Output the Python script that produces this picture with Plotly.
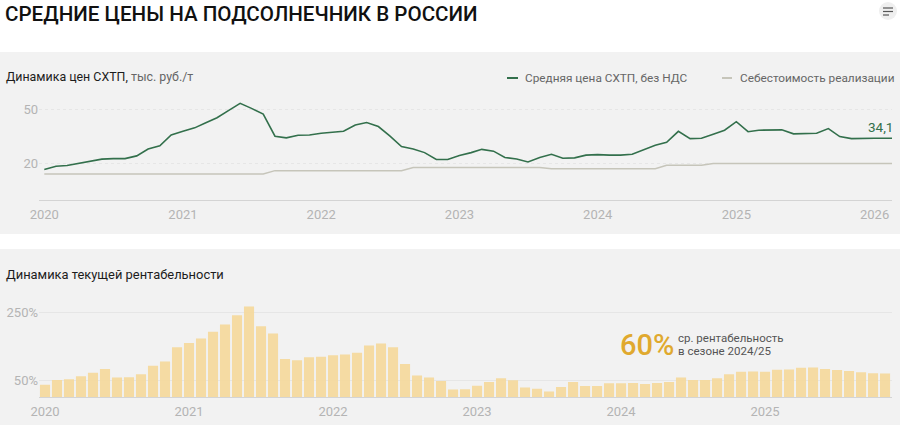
import pandas as pd
import plotly.graph_objects as go

W, H = 900, 425
FONT = "Roboto"

price_dates = list(pd.date_range("2020-01-01", "2026-01-01", freq="MS").strftime("%Y-%m-%d")) + ["2026-02-16"]
price = [16.9, 18.7, 19.1, 20.2, 21.3, 22.6, 22.9, 22.9, 24.4, 28.2, 29.9, 35.9,
         37.9, 39.8, 42.5, 45.4, 49.3, 53.3, 50.5, 47.4, 35.2, 34.3, 35.7, 35.9,
         36.8, 37.2, 37.9, 41.4, 42.7, 40.5, 35.4, 29.5, 28.2, 26.2, 22.4, 22.4,
         24.6, 26.2, 28.0, 27.0, 23.5, 22.7, 21.1, 23.5, 25.3, 23.1, 23.3, 24.8,
         25.1, 24.8, 24.8, 25.3, 27.5, 30.2, 31.9, 37.9, 33.9, 34.1, 36.3, 38.5,
         43.2, 37.7, 38.5, 38.5, 38.7, 36.5, 36.5, 36.8, 39.4, 35.0, 33.9, 34.1,
         34.1, 34.1]
cost = [14.5] * 20 + [16.3] * 12 + [18.0] * 12 + [17.4] * 10 + [19.3] * 4 + [20.2] * 16

margin_months = list(pd.date_range("2020-01-01", "2025-11-01", freq="MS").strftime("%Y-%m"))
margin = [37, 51, 53, 62, 72, 83, 58, 59, 68, 93, 105, 147,
          160, 173, 193, 214, 241, 267, 209, 188, 113, 109, 118, 119,
          124, 126, 131, 152, 158, 147, 98, 64, 58, 48, 23, 24,
          34, 45, 56, 50, 29, 25, 17, 30, 45, 33, 33, 41,
          41, 42, 39, 42, 45, 58, 51, 51, 56, 68, 75, 76,
          75, 81, 82, 87, 88, 83, 80, 77, 74, 71, 70]
margin_tick_months = ["2020-01", "2021-01", "2022-01", "2023-01", "2024-01", "2025-01"]
margin_tick_years = ["2020", "2021", "2022", "2023", "2024", "2025"]
margin_y_ticks = [50, 250]
margin_y_labels = ["50%", "250%"]

GREEN = "#33704c"
GREY_LINE = "#c6c5ba"
PANEL = "#f2f2f2"
TICK = "#b4b4b4"
GRID = "#e6e6e6"


def px_x(x):
    return x / W


def px_y(y):
    return 1 - y / H


def note(x, y, text, size, color, anchor="left", weight=400):
    # annotations carry about 2.5px of padding, taken back for left aligned text
    return dict(xref="paper", yref="paper", x=px_x(x), y=px_y(y), text=text, showarrow=False,
                xanchor=anchor, yanchor="middle", align="left", xshift=-2.5 if anchor == "left" else 0,
                font=dict(family=FONT, size=size, color=color, weight=weight))


def rule(x0, y0, x1, y1, color, width):
    return dict(type="line", xref="paper", yref="paper", x0=px_x(x0), x1=px_x(x1), y0=px_y(y0), y1=px_y(y1),
                line=dict(color=color, width=width))


def panel(y0, y1):
    return dict(type="rect", xref="paper", yref="paper", x0=0, x1=1, y0=px_y(y1), y1=px_y(y0),
                fillcolor=PANEL, line_width=0, layer="below")


fig = go.Figure()
fig.add_trace(go.Scatter(x=price_dates, y=cost, mode="lines", name="Себестоимость реализации",
                         line=dict(color=GREY_LINE, width=1.5), xaxis="x", yaxis="y"))
fig.add_trace(go.Scatter(x=price_dates, y=price, mode="lines", name="Средняя цена СХТП, без НДС",
                         line=dict(color=GREEN, width=1.6), xaxis="x", yaxis="y"))
fig.add_trace(go.Bar(x=margin_months, y=margin, name="Текущая рентабельность",
                     marker=dict(color="#f6d795", opacity=0.85, line_width=0), xaxis="x2", yaxis="y2"))

tick_font = dict(family=FONT, size=13, color=TICK)
fig.update_layout(
    width=W, height=H, margin=dict(l=0, r=0, t=0, b=0),
    paper_bgcolor="white", plot_bgcolor="rgba(0,0,0,0)", showlegend=False, bargap=0.16,
    title=dict(text="СРЕДНИЕ ЦЕНЫ НА ПОДСОЛНЕЧНИК В РОССИИ", x=px_x(5), xanchor="left",
               y=px_y(14), yanchor="middle", automargin=False,
               font=dict(family=FONT, size=20.6, color="#111111", weight=500)),
    xaxis=dict(domain=[px_x(39), px_x(892)], range=["2019-12-18", "2026-02-16"], type="date",
               dtick="M12", tick0="2020-01-01", tickformat="%Y", showgrid=False, ticks="", automargin=False,
               showline=True, linecolor="#d4d4d4", linewidth=1, tickfont=tick_font, anchor="y",
               ticklabelstandoff=2),
    yaxis=dict(domain=[px_y(200.3), px_y(90)], range=[0, 60.6], tickvals=[20, 50], showgrid=True,
               gridcolor=GRID, griddash="dot", gridwidth=1, zeroline=False, tickfont=tick_font,
               ticks="", anchor="x", automargin=False),
    xaxis2=dict(domain=[px_x(39), px_x(892)], range=[-0.5, 70.58], type="category",
                categoryorder="array", categoryarray=margin_months,
                tickvals=margin_tick_months, ticktext=margin_tick_years, showgrid=False, ticks="", automargin=False,
                showline=True, linecolor="#d4d4d4", linewidth=1, tickfont=tick_font, anchor="y2",
                ticklabelstandoff=2),
    yaxis2=dict(domain=[px_y(397.3), px_y(295)], range=[0, 300.9], tickvals=margin_y_ticks, ticktext=margin_y_labels,
                showgrid=True, gridcolor=GRID, gridwidth=1, zeroline=False, tickfont=tick_font,
                ticks="", anchor="x2", automargin=False),
    shapes=[
        panel(52, 234),
        panel(249, 425),
        # legend keys
        rule(507, 78, 518, 78, GREEN, 2),
        rule(722, 78, 732, 78, GREY_LINE, 2),
        # menu button
        dict(type="circle", xref="paper", yref="paper", x0=px_x(879), x1=px_x(897), y0=px_y(20), y1=px_y(2),
             fillcolor="#efefef", line_width=0),
        rule(883, 8, 893, 8, "#555555", 1.2),
        rule(883, 11.5, 893, 11.5, "#555555", 1.2),
        rule(883, 15, 889, 15, "#555555", 1.2),
    ],
    annotations=[
        note(6, 76, '<span style="color:#1c1c1c">Динамика цен СХТП,</span> <span style="color:#666666">тыс. руб./т</span>', 12.4, "#1c1c1c"),
        note(6, 274, "Динамика текущей рентабельности", 12.9, "#1c1c1c"),
        note(525.5, 78, "Средняя цена СХТП, без НДС", 11.8, "#666666"),
        note(740, 78, "Себестоимость реализации", 11.8, "#666666"),
        note(880, 127, "34,1", 13.5, GREEN, "center"),
        note(620, 345, "60%", 29, "#e0a92e", weight=500),
        note(678, 337.5, "ср. рентабельность", 11.5, "#555555"),
        note(678, 350.5, "в сезоне 2024/25", 11.5, "#555555"),
    ],
)

fig.write_html("out.html", config={"displayModeBar": False},
               post_script="document.body.style.margin='0';document.body.style.overflow='hidden';")
